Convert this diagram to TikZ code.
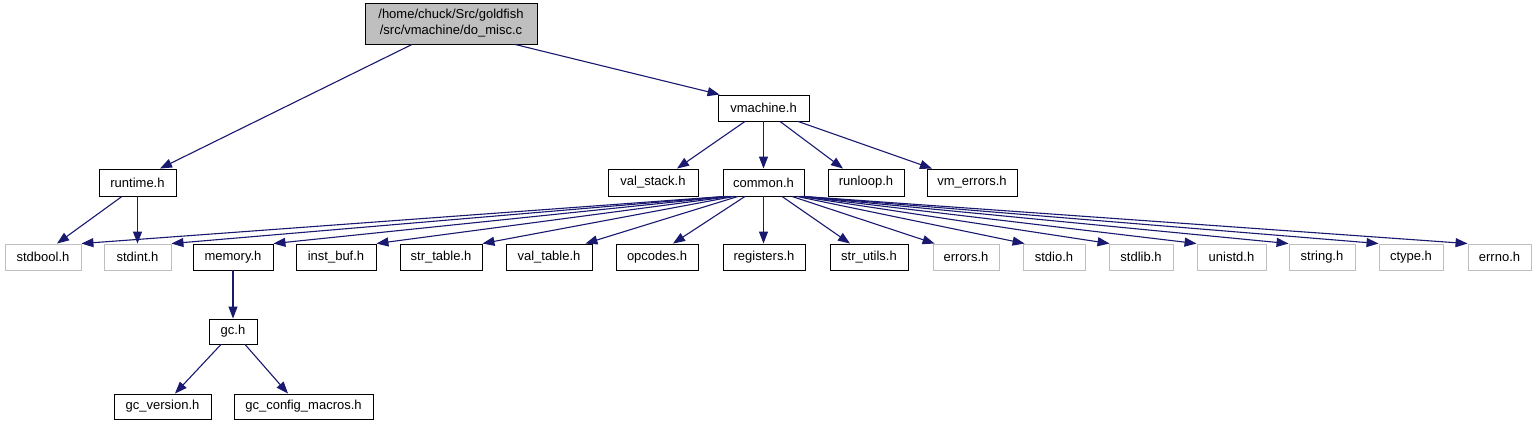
\documentclass[tikz,border=0pt]{standalone}
\usepackage{fontspec}
\setmainfont{Liberation Sans}
\usetikzlibrary{arrows.meta}
\definecolor{edgeblue}{HTML}{191970}
\definecolor{greyline}{HTML}{BFBFBF}
\newcommand\nodefont{\fontsize{13}{16}\selectfont}
\tikzset{
  box/.style={draw=black, fill=white, line width=0.9pt, inner sep=0pt, font=\nodefont, text=black, anchor=center, minimum height=26pt},
  gbox/.style={box, draw=greyline},
  topbox/.style={box, fill=greyline, align=center, minimum height=41pt},
  edge/.style={draw=edgeblue, line width=1.1pt, -{Triangle[length=12pt,width=9pt]}}
}
\begin{document}
\begin{tikzpicture}[x=1pt,y=-1pt]
\fill[white] (0,0) rectangle (1537,425);
\useasboundingbox (0,0) rectangle (1537,425);
% nodes
\node[topbox, minimum width=172pt] (domisc) at (451,23.5) {/home/chuck/Src/goldfish\\/src/vmachine/do\_misc.c};
\node[box, minimum width=77pt, minimum height=27pt] (runtime) at (137.5,182.5) {runtime.h};
\node[box, minimum width=91pt] (vmachine) at (763.5,108) {vmachine.h};
\node[box, minimum width=90pt, minimum height=27pt] (valstack) at (653,182.5) {val\_stack.h};
\node[box, minimum width=81pt, minimum height=27pt] (common) at (763.5,182.5) {common.h};
\node[box, minimum width=76pt, minimum height=27pt] (runloop) at (866,182.5) {runloop.h};
\node[box, minimum width=90pt, minimum height=27pt] (vmerrors) at (972,182.5) {vm\_errors.h};
\node[gbox, minimum width=76pt] (stdbool) at (43,257) {stdbool.h};
\node[gbox, minimum width=67pt] (stdint) at (137.5,257) {stdint.h};
\node[box, minimum width=80pt] (memory) at (233,257) {memory.h};
\node[box, minimum width=80pt] (instbuf) at (336,257) {inst\_buf.h};
\node[box, minimum width=82pt] (strtable) at (441,257) {str\_table.h};
\node[box, minimum width=86pt] (valtable) at (549,257) {val\_table.h};
\node[box, minimum width=82pt] (opcodes) at (657,257) {opcodes.h};
\node[box, minimum width=82pt] (registers) at (764,257) {registers.h};
\node[box, minimum width=78pt] (strutils) at (869,257) {str\_utils.h};
\node[gbox, minimum width=66pt] (errors) at (966,257) {errors.h};
\node[gbox, minimum width=62pt] (stdio) at (1054,257) {stdio.h};
\node[gbox, minimum width=64pt] (stdlib) at (1141,257) {stdlib.h};
\node[gbox, minimum width=69pt] (unistd) at (1231.5,257) {unistd.h};
\node[gbox, minimum width=66pt] (string) at (1322,257) {string.h};
\node[gbox, minimum width=64pt] (ctype) at (1411,257) {ctype.h};
\node[gbox, minimum width=63pt] (errno) at (1499.5,257) {errno.h};
\node[box, minimum width=48pt, minimum height=25pt] (gc) at (233,331.5) {gc.h};
\node[box, minimum width=97pt, minimum height=25pt] (gcversion) at (162.5,406.5) {gc\_version.h};
\node[box, minimum width=139pt, minimum height=25pt] (gcconfig) at (303.5,406.5) {gc\_config\_macros.h};
% edges
\draw[edge] ([xshift=-39pt]domisc.south) -- ([xshift=22.5pt]runtime.north);
\draw[edge] ([xshift=64pt]domisc.south) -- ([xshift=2pt]vmachine.north west);
\draw[edge] ([xshift=-18.5pt]vmachine.south) -- ([xshift=24pt]valstack.north);
\draw[edge] (vmachine.south) -- (common.north);
\draw[edge] ([xshift=16.5pt]vmachine.south) -- ([xshift=-23pt]runloop.north);
\draw[edge] ([xshift=34.5pt]vmachine.south) -- ([xshift=-40pt]vmerrors.north);
\draw[edge] ([xshift=-15.5pt]runtime.south) -- ([xshift=14pt]stdbool.north);
\draw[edge] (runtime.south) -- (stdint.north);
\draw[edge] ([xshift=-39.5pt]common.south) -- (stdbool.north east);
\draw[edge] ([xshift=-37.5pt]common.south) -- (stdint.north east);
\draw[edge] ([xshift=-35.5pt]common.south) -- (memory.north east);
\draw[edge] ([xshift=-32.5pt]common.south) -- (instbuf.north east);
\draw[edge] ([xshift=-29.5pt]common.south) -- (strtable.north east);
\draw[edge] ([xshift=-25.5pt]common.south) -- ([xshift=-7pt]valtable.north east);
\draw[edge] ([xshift=-18.5pt]common.south) -- ([xshift=16pt]opcodes.north);
\draw[edge] (common.south) -- (common.south |- registers.north);
\draw[edge] ([xshift=18.5pt]common.south) -- ([xshift=-19pt]strutils.north);
\draw[edge] ([xshift=28.5pt]common.south) -- ([xshift=2pt]errors.north west);
\draw[edge] ([xshift=33.5pt]common.south) -- ([xshift=2pt]stdio.north west);
\draw[edge] ([xshift=36.5pt]common.south) -- ([xshift=1pt]stdlib.north west);
\draw[edge] ([xshift=37.5pt]common.south) -- (unistd.north west);
\draw[edge] ([xshift=38.5pt]common.south) -- (string.north west);
\draw[edge] ([xshift=39.5pt]common.south) -- (ctype.north west);
\draw[edge] ([xshift=40.5pt]common.south) -- (errno.north west);
\draw[edge] (memory.south) -- (gc.north);
\draw[edge] ([xshift=-12pt]gc.south) -- ([xshift=12.5pt]gcversion.north);
\draw[edge] ([xshift=12pt]gc.south) -- ([xshift=-15.5pt]gcconfig.north);
\end{tikzpicture}
\end{document}
